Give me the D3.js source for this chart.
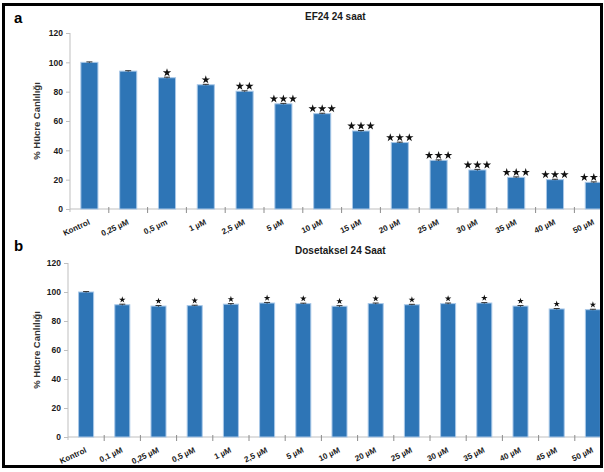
<!DOCTYPE html>
<html>
<head>
<meta charset="utf-8">
<script src="https://cdn.jsdelivr.net/npm/d3@7"></script>
<style>
  html, body { margin: 0; padding: 0; background: #fff; }
  svg { display: block; }
  text { font-family: "Liberation Sans", Arial, sans-serif; }
</style>
</head>
<body>
<script>
// Panel a: EF24, 24 saat
const catsA = ["Kontrol", "0,25 µM", "0,5 µm", "1 µM", "2,5 µM", "5 µM", "10 µM",
               "15 µM", "20 µM", "25 µM", "30 µM", "35 µM", "40 µM", "50 µM"];
const valsA = [100, 94, 89.5, 84.7, 80.3, 71.7, 65, 53.2, 45.3, 33.2, 26.6, 21.6, 20, 18.2];
const errA  = [0.3, 0.3, 0.4, 0.3, 0.3, 0.3, 0.3, 0.3, 0.3, 0.3, 0.4, 0.3, 0.3, 0.3];
const starsA = [0, 0, 1, 1, 2, 3, 3, 3, 3, 3, 3, 3, 3, 3];

// Panel b: Dosetaksel, 24 Saat
const catsB = ["Kontrol", "0,1 µM", "0,25 µM", "0,5 µM", "1 µM", "2,5 µM", "5 µM", "10 µM",
               "20 µM", "25 µM", "30 µM", "35 µM", "40 µM", "45 µM", "50 µM"];
const valsB = [100, 91.2, 90.3, 90.6, 91.6, 92.4, 92, 90.2, 92, 91.2, 92, 92.4, 90.3, 88.3, 87.8];
const errB  = [0.3, 0.4, 0.4, 0.3, 0.4, 0.4, 0.3, 0.4, 0.4, 0.3, 0.4, 0.3, 0.4, 0.3, 0.3];
const starsB = [0, 1, 1, 1, 1, 1, 1, 1, 1, 1, 1, 1, 1, 1, 1];

const yTicks = [0, 20, 40, 60, 80, 100, 120];

const W = 604, H = 472;
const svg = d3.select("body").append("svg").attr("width", W).attr("height", H);

svg.append("defs").append("clipPath").attr("id", "inner")
  .append("rect").attr("x", 5).attr("y", 5).attr("width", 595).attr("height", 460);

const root = svg.append("g").attr("clip-path", "url(#inner)");

const AXIS = "#bfbfbf", BAR = "#2e75b6", EDGE = "#a9c8e8", TXT = "#1a1a1a";

function panel(cfg) {
  const g = root.append("g");
  const x = d3.scaleBand().domain(cfg.cats).range([cfg.x0, cfg.x1])
    .paddingInner(cfg.pad).paddingOuter(cfg.pad / 2);
  const y = d3.scaleLinear().domain([0, 120]).range([cfg.y0, cfg.y1]);

  // panel letter and title
  g.append("text").attr("x", 14).attr("y", cfg.letterY)
    .attr("font-size", 15).attr("font-weight", "bold").attr("fill", "#000").text(cfg.letter);
  g.append("text").attr("x", cfg.titleX).attr("y", cfg.titleY)
    .attr("font-size", 10).attr("font-weight", "bold").attr("fill", TXT).text(cfg.title);

  // y axis
  const ya = g.append("g").attr("transform", `translate(${cfg.x0},0)`)
    .call(d3.axisLeft(y).tickValues(yTicks).tickSize(4).tickPadding(3));
  ya.select(".domain").attr("stroke", AXIS).attr("d", `M0,${cfg.y1}V${cfg.y0 + 3}`);
  ya.selectAll(".tick line").attr("stroke", AXIS);
  ya.selectAll(".tick text").attr("font-size", 8.5).attr("font-weight", "bold")
    .attr("fill", TXT).attr("font-family", "Liberation Sans, Arial, sans-serif");

  // y label
  g.append("text")
    .attr("transform", `translate(${cfg.labelX},${(cfg.y0 + cfg.y1) / 2}) rotate(-90)`)
    .attr("text-anchor", "middle").attr("font-size", 9.5).attr("font-weight", "bold")
    .attr("fill", "#333").text("% Hücre Canlılığı");

  // x axis line and boundary ticks
  g.append("line").attr("x1", cfg.x0).attr("x2", cfg.x1 + 20)
    .attr("y1", cfg.y0).attr("y2", cfg.y0).attr("stroke", AXIS);
  const step = x.step();
  const bounds = d3.range(1, cfg.cats.length + 1).map(i => cfg.x0 + i * step);
  g.selectAll(".bt").data(bounds).join("line")
    .attr("x1", d => d).attr("x2", d => d)
    .attr("y1", cfg.y0 - 2).attr("y2", cfg.y0 + 4).attr("stroke", "#8c8c8c");

  // bars
  g.selectAll(".bar").data(cfg.vals).join("rect")
    .attr("x", (d, i) => x(cfg.cats[i]))
    .attr("y", d => y(d))
    .attr("width", x.bandwidth())
    .attr("height", d => y(0) - y(d))
    .attr("fill", BAR).attr("stroke", EDGE).attr("stroke-width", 1);

  // error bars
  const cx = i => x(cfg.cats[i]) + x.bandwidth() / 2;
  cfg.vals.forEach((v, i) => {
    const e = cfg.err[i];
    g.append("line").attr("x1", cx(i)).attr("x2", cx(i))
      .attr("y1", y(v + e)).attr("y2", y(v - e)).attr("stroke", "#333");
    g.append("line").attr("x1", cx(i) - 3).attr("x2", cx(i) + 3)
      .attr("y1", y(v + e)).attr("y2", y(v + e)).attr("stroke", "#333");
  });

  // significance stars
  const star = d3.symbol().type(d3.symbolStar).size(cfg.starSize);
  cfg.stars.forEach((n, i) => {
    for (let k = 0; k < n; k++) {
      const sx = cx(i) + (k - (n - 1) / 2) * cfg.starGap;
      const sy = y(cfg.vals[i]) - cfg.starLift;
      g.append("path").attr("d", star())
        .attr("transform", `translate(${sx},${sy})`).attr("fill", "#111");
    }
  });

  // category labels
  g.selectAll(".xl").data(cfg.cats).join("text")
    .attr("transform", d => `translate(${x(d) + x.bandwidth() / 2 + 1},${cfg.y0 + 15}) rotate(-25)`)
    .attr("text-anchor", "end").attr("font-size", 8).attr("font-weight", "bold")
    .attr("fill", TXT).text(d => d);
}

panel({
  cats: catsA, vals: valsA, err: errA, stars: starsA,
  x0: 70, x1: 70 + 14 * 38.8, pad: 0.56, y0: 209, y1: 33,
  letter: "a", letterY: 23, title: "EF24 24 saat", titleX: 305, titleY: 20,
  labelX: 40, starSize: 22, starGap: 9.5, starLift: 5
});

panel({
  cats: catsB, vals: valsB, err: errB, stars: starsB,
  x0: 68, x1: 68 + 15 * 36.2, pad: 0.585, y0: 437, y1: 263,
  letter: "b", letterY: 251, title: "Dosetaksel 24 Saat", titleX: 295, titleY: 254,
  labelX: 40, starSize: 13, starGap: 7, starLift: 5
});

// outer frame
svg.append("rect").attr("x", 3.5).attr("y", 4.5).attr("width", 598).attr("height", 462)
  .attr("fill", "none").attr("stroke", "#000").attr("stroke-width", 3);
</script>
</body>
</html>
